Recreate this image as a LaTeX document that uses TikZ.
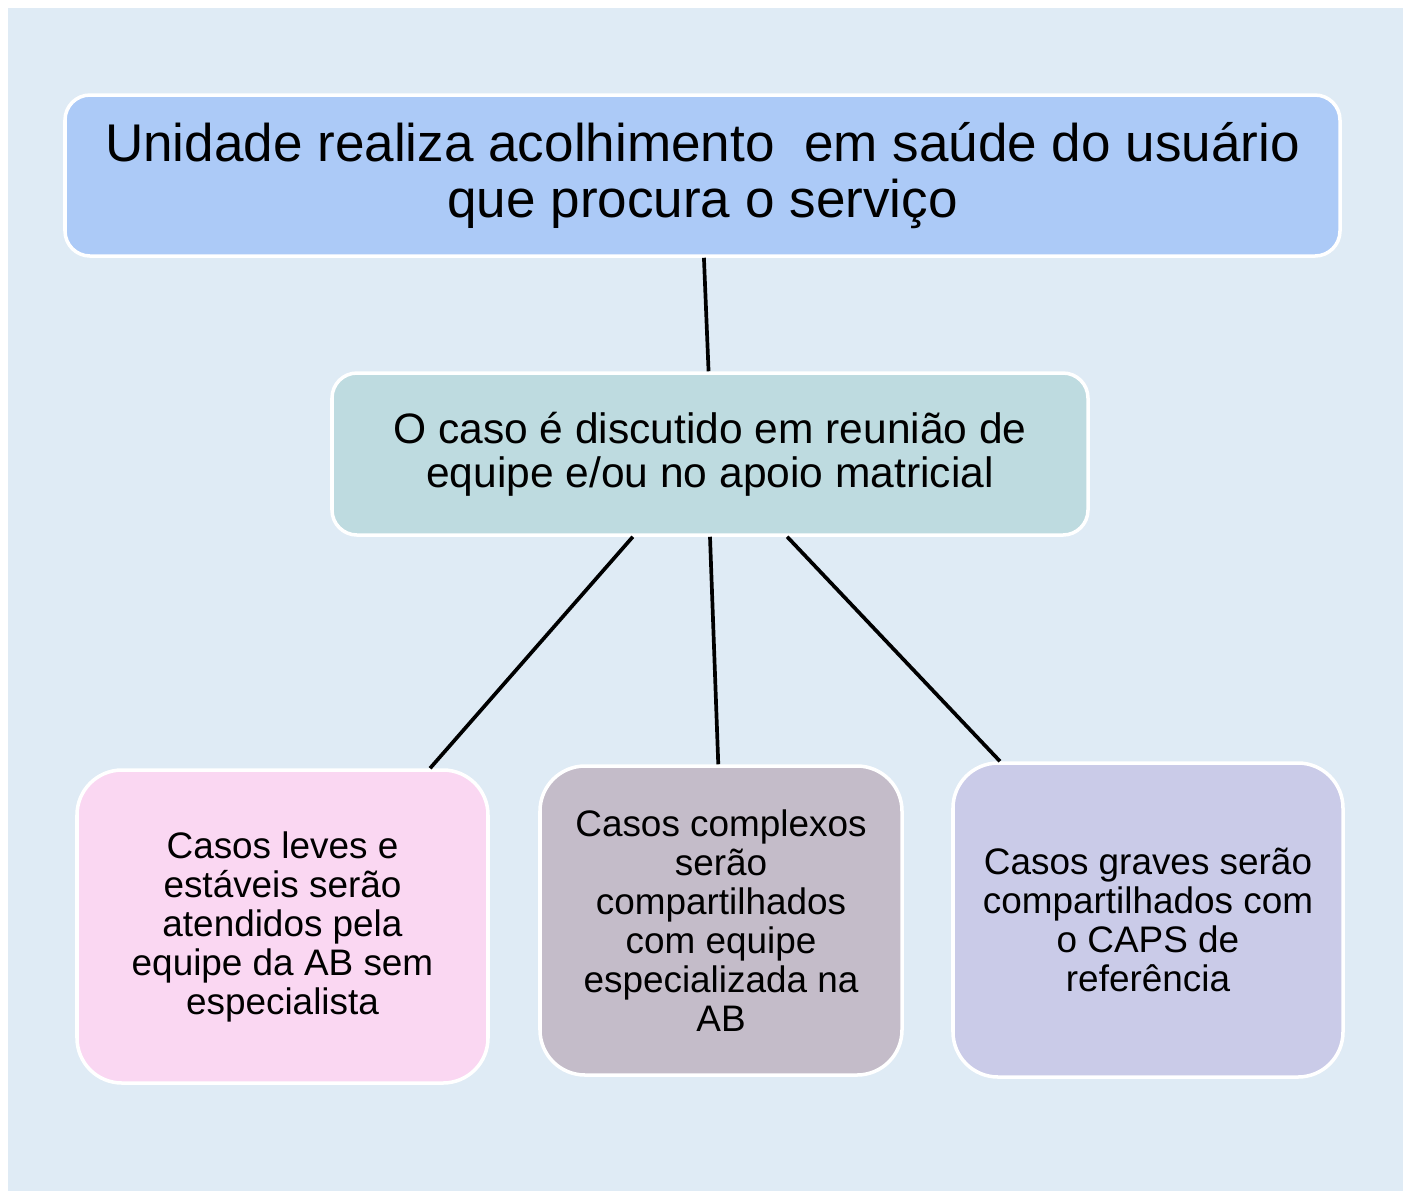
\documentclass[tikz,border=0pt]{standalone}
\usepackage{fontspec}
\setmainfont{Liberation Sans}
\usepackage{xcolor}
\usetikzlibrary{calc}
\definecolor{bgblue}{HTML}{DFEBF5}
\definecolor{topfill}{HTML}{ACCAF7}
\definecolor{midfill}{HTML}{BEDBE0}
\definecolor{pinkfill}{HTML}{FAD7F2}
\definecolor{mauvefill}{HTML}{C4BCC9}
\definecolor{lilacfill}{HTML}{CACBE8}
\tikzset{
  box/.style={draw=white, line width=1pt, align=center, inner sep=0pt, text=black},
  headbox/.style={box, fill=topfill, rounded corners=0.25cm,
    minimum width=12.75cm, minimum height=1.61cm, font=\fontsize{15.1}{15.9}\selectfont},
  meetbox/.style={box, fill=midfill, rounded corners=0.25cm,
    minimum width=7.56cm, minimum height=1.62cm, font=\fontsize{12.1}{12.6}\selectfont},
  leafbox/.style={box, fill=#1, rounded corners=0.45cm,
    minimum height=3.1cm, font=\fontsize{10.5}{11.1}\selectfont},
  link/.style={draw=black, line width=1.05pt},
}
\begin{document}
\begin{tikzpicture}
  \useasboundingbox (0,0) rectangle (14.08,-11.91);
  \fill[bgblue] (0.08,-0.08) rectangle (14.03,-11.91);

  \node[headbox] (acolh) at (7.025,-1.755)
    {Unidade realiza acolhimento\ \ em saúde do usuário\\que procura o serviço};
  \node[meetbox] (reuniao) at (7.10,-4.54)
    {O caso é discutido em reunião de\\equipe e/ou no apoio matricial};

  \node[leafbox=pinkfill, minimum width=4.11cm, minimum height=3.13cm] (leves) at (2.825,-9.265)
    {Casos leves e\\estáveis serão\\atendidos pela\\equipe da AB sem\\especialista};
  \node[leafbox=mauvefill, minimum width=3.62cm, minimum height=3.09cm] (complexos) at (7.21,-9.205)
    {Casos complexos\\serão\\compartilhados\\com equipe\\especializada na\\AB};
  \node[leafbox=lilacfill, minimum width=3.90cm, minimum height=3.14cm] (graves) at (11.48,-9.20)
    {Casos graves serão\\compartilhados com\\o CAPS de\\referência};

  \draw[link] (acolh.271) -- (reuniao.91.5);
  \draw[link] (reuniao.227.6) -- (leves.47.7);
  \draw[link] (reuniao.270) -- (complexos.91.5);
  \draw[link] (reuniao.313.2) -- (graves.133.3);
\end{tikzpicture}
\end{document}
